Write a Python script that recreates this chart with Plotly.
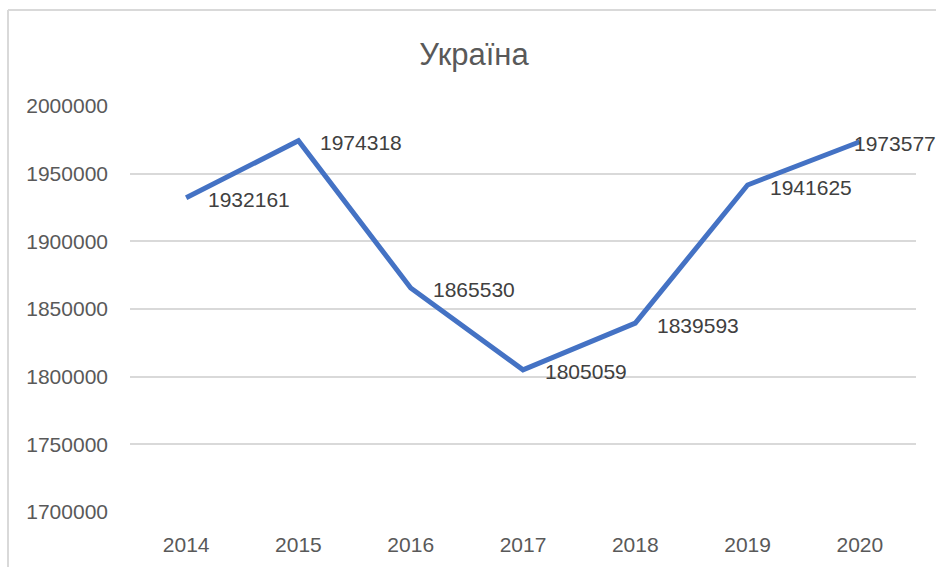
import plotly.graph_objects as go

years = ["2014", "2015", "2016", "2017", "2018", "2019", "2020"]
values = [1932161, 1974318, 1865530, 1805059, 1839593, 1941625, 1973577]
y_ticks = [1700000, 1750000, 1800000, 1850000, 1900000, 1950000, 2000000]
title_text = "Україна"

FONT = "Liberation Sans"
TXT = "#595959"

fig = go.Figure()
fig.add_trace(go.Scatter(
    x=years, y=values, mode="lines",
    line=dict(color="#4472C4", width=5),
    showlegend=False,
))

annotations = []
for i, v in enumerate(values):
    last = i == len(values) - 1
    annotations.append(dict(
        x=i, y=v, xref="x", yref="y", text=str(v), showarrow=False,
        xanchor="left", yanchor="middle",
        xshift=-8 if last else 20, yshift=-2,
        font=dict(family=FONT, size=21, color="#404040"),
    ))

fig.update_layout(
    width=936, height=567,
    margin=dict(l=130, r=20, t=106, b=55),
    paper_bgcolor="white", plot_bgcolor="white",
    title=dict(text=title_text, x=474 / 936, xanchor="center", xref="container",
               y=1 - 54 / 567, yanchor="middle", yref="container",
               font=dict(family=FONT, size=31, color=TXT)),
    xaxis=dict(type="category", range=[-0.5, 6.5], showgrid=False,
               showline=False, zeroline=False, ticks="",
               tickfont=dict(family=FONT, size=21, color=TXT),
               ticklabelstandoff=18),
    yaxis=dict(range=[1700000, 2000000], tickvals=y_ticks,
               ticktext=[str(v) for v in y_ticks],
               showgrid=True, gridcolor="#D9D9D9", gridwidth=1.5,
               zeroline=False, showline=False, ticks="",
               tickfont=dict(family=FONT, size=21, color=TXT),
               ticklabelstandoff=21),
    annotations=annotations,
    shapes=[
        dict(type="line", xref="paper", yref="paper",
             x0=(8 - 130) / 786, x1=(8 - 130) / 786,
             y0=(512 - 10) / 406, y1=(512 - 600) / 406,
             line=dict(color="#D9D9D9", width=2)),
        dict(type="line", xref="paper", yref="paper",
             x0=(8 - 130) / 786, x1=(1000 - 130) / 786,
             y0=(512 - 10) / 406, y1=(512 - 10) / 406,
             line=dict(color="#D9D9D9", width=2)),
    ],
)

fig.write_html(
    "out.html",
    config={"displayModeBar": False},
    post_script="document.body.style.margin='0';document.body.style.overflow='hidden';",
)
